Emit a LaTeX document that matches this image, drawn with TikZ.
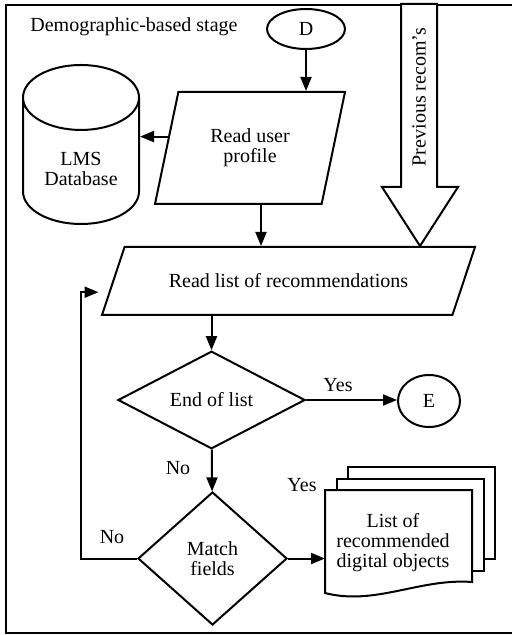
\documentclass[tikz,border=0pt]{standalone}
\usepackage{fontspec}
\setmainfont{Liberation Serif}
\usetikzlibrary{shapes.geometric,arrows.meta,calc}

\tikzset{
  line/.style={line width=1pt},
  flow/.style={line, -{Triangle[length=7pt,width=5.5pt]}},
  inbox/.style={line, draw, trapezium, trapezium stretches body, inner sep=1pt, align=center},
  decision/.style={line, draw, diamond, inner sep=0pt, align=center},
  terminal/.style={line, draw, ellipse, inner sep=0pt},
  lbl/.style={inner sep=0pt},
}

\begin{document}
\begin{tikzpicture}[x=0.5pt,y=-0.5pt,font=\fontsize{10}{10}\selectfont]
	\useasboundingbox (0,0) rectangle (511,635);
	\draw[line width=1.4pt] (6,5) rectangle (520,633);
	\node[lbl,anchor=west] (stage) at (30,27) {Demographic-based stage};

	% input side
	\node[terminal,minimum width=39pt,minimum height=20pt] (D) at (306,29) {D};
	\node[inbox,trapezium left angle=61,trapezium right angle=119,minimum width=95pt,minimum height=56pt] (profile) at (250,148) {Read user\\profile};
	\node[line,draw,cylinder,shape border rotate=90,aspect=0.75,minimum width=58pt,minimum height=79.5pt,align=center,anchor=south] (LMS) at (81,225) {LMS\\Database};
	\node[inbox,trapezium left angle=39,trapezium right angle=141,minimum width=186.5pt,minimum height=34pt] (list) at (288.5,281) {Read list of recommendations};

	\draw[flow] (D) -- (D |- profile.north);
	\coordinate (pin) at ($(profile.bottom left corner)!0.6!(profile.top left corner)$);
	\draw[flow] (pin) -- (pin -| LMS.east);
	\coordinate (p1) at ([xshift=5.5pt]profile.south);
	\draw[flow] (p1) -- (p1 |- list.north);

	% previous recommendations
	\coordinate (px) at (420,0);
	\coordinate (tip) at (list.north -| px);
	\draw[line,fill=white] (tip) -- ++(-38,-59) -- ++(19,0) -- ++(0,-183) -- ++(36,0) -- ++(0,183) -- ++(21,0) -- cycle;
	\node[rotate=90] (prev) at (419,97) {Previous recom's};

	% decisions
	\node[decision,minimum width=93.5pt,minimum height=45pt] (endlist) at (211.5,400) {End of list};
	\draw[flow] (endlist.north |- list.south) -- (endlist);
	\node[terminal,minimum width=31pt,minimum height=26pt] (E) at (429,401) {E};
	\draw[flow] (endlist.east) -- (endlist.east -| E.west);
	\node[decision,minimum width=74.5pt,minimum height=66.5pt] (match) at (212.5,558.5) {Match\\fields};
	\draw[flow] (endlist) -- (match);

	\node[lbl] (yes1) at (338,385) {Yes};
	\node[lbl] (no1) at (178,468) {No};
	\node[lbl] (yes2) at (302,485) {Yes};
	\node[lbl] (no2) at (112,537) {No};

	\coordinate (back) at ($(list.bottom left corner)!0.34!(list.top left corner)$);
	\draw[flow,shorten >=5pt] (match.west) -- ++(-56,0) |- (back);

	% output documents
	\coordinate (sheet) at (325,490);
	\foreach \i in {2,1}
		\draw[line,fill=white] ([shift={(11.5*\i,-11.5*\i)}]sheet) rectangle ++(147,92);
	\draw[line,fill=white] (sheet) -- ([shift={(147,0)}]sheet) -- ([shift={(147,92)}]sheet) .. controls ([shift={(95,88)}]sheet) and ([shift={(50,116)}]sheet) .. ([shift={(0,103)}]sheet) -- cycle;
	\node[align=center] (docs) at (393,543) {List of\\recommended\\digital objects};
	\draw[flow] (match.east) -- (match.east -| sheet);
\end{tikzpicture}
\end{document}
